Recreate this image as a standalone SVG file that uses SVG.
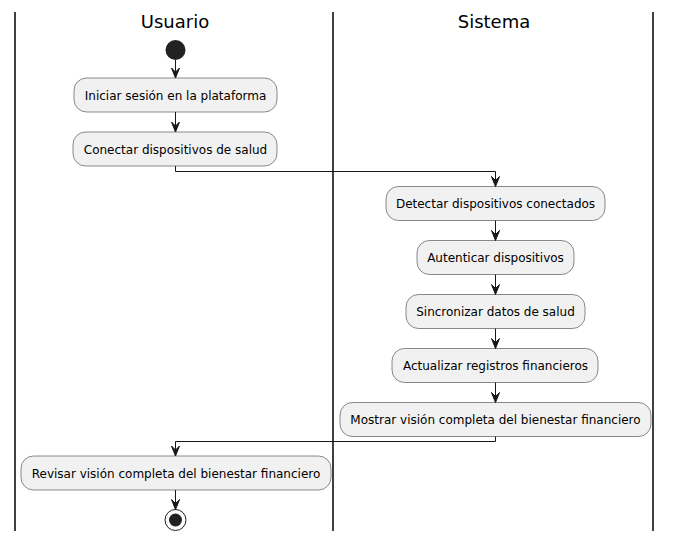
<svg xmlns="http://www.w3.org/2000/svg" width="673" height="543" viewBox="0 0 673 543">
<style>
.lane{stroke:#000;stroke-width:1.5}
.title{font-family:"DejaVu Sans",sans-serif;font-size:18px;fill:#000;text-anchor:middle}
.box{fill:#F1F1F1;stroke:#181818;stroke-width:0.5}
.lbl{font-family:"DejaVu Sans",sans-serif;font-size:12px;fill:#000;text-anchor:middle}
.edge{fill:none;stroke:#181818;stroke-width:1}
.head{fill:#181818;stroke:#181818;stroke-width:1}
</style>
<rect width="673" height="543" fill="#fff"/>
<g id="lanes">
<line class="lane" x1="15" y1="12" x2="15" y2="531"/>
<line class="lane" x1="333" y1="12" x2="333" y2="531"/>
<line class="lane" x1="653" y1="12" x2="653" y2="531"/>
<text class="title" x="175" y="28">Usuario</text>
<text class="title" x="494" y="28">Sistema</text>
</g>
<g id="start"><circle cx="175.5" cy="50" r="10" fill="#222"/></g>
<g id="n1"><rect class="box" x="74" y="78" width="203" height="34" rx="12.5"/><text class="lbl" x="175.5" y="99.5">Iniciar sesión en la plataforma</text></g>
<g id="n2"><rect class="box" x="73" y="132" width="204" height="34" rx="12.5"/><text class="lbl" x="175.5" y="153.5">Conectar dispositivos de salud</text></g>
<g id="n3"><rect class="box" x="386" y="186.5" width="219" height="34" rx="12.5"/><text class="lbl" x="495.5" y="208">Detectar dispositivos conectados</text></g>
<g id="n4"><rect class="box" x="417" y="240.5" width="157" height="34" rx="12.5"/><text class="lbl" x="495.5" y="262">Autenticar dispositivos</text></g>
<g id="n5"><rect class="box" x="406" y="294.5" width="179" height="34" rx="12.5"/><text class="lbl" x="495.5" y="316">Sincronizar datos de salud</text></g>
<g id="n6"><rect class="box" x="392" y="348.5" width="206" height="34" rx="12.5"/><text class="lbl" x="495.5" y="370">Actualizar registros financieros</text></g>
<g id="n7"><rect class="box" x="340" y="402.5" width="311" height="34" rx="12.5"/><text class="lbl" x="495.5" y="424">Mostrar visión completa del bienestar financiero</text></g>
<g id="n8"><rect class="box" x="21" y="456" width="310" height="34" rx="12.5"/><text class="lbl" x="176" y="477.5">Revisar visión completa del bienestar financiero</text></g>
<g id="stop"><circle cx="175.5" cy="520" r="10.5" fill="none" stroke="#222" stroke-width="1"/><circle cx="175.5" cy="520" r="6.5" fill="#222"/></g>
<g id="connectors">
<path class="edge" d="M175.5,60 V78"/>
<polygon class="head" points="171.5,68 175.5,78 179.5,68 175.5,72"/>
<path class="edge" d="M175.5,112 V132"/>
<polygon class="head" points="171.5,122 175.5,132 179.5,122 175.5,126"/>
<path class="edge" d="M175.5,166 V171.5 H495.5 V186.5"/>
<polygon class="head" points="491.5,176.5 495.5,186.5 499.5,176.5 495.5,180.5"/>
<path class="edge" d="M495.5,220.5 V240.5"/>
<polygon class="head" points="491.5,230.5 495.5,240.5 499.5,230.5 495.5,234.5"/>
<path class="edge" d="M495.5,274.5 V294.5"/>
<polygon class="head" points="491.5,284.5 495.5,294.5 499.5,284.5 495.5,288.5"/>
<path class="edge" d="M495.5,328.5 V348.5"/>
<polygon class="head" points="491.5,338.5 495.5,348.5 499.5,338.5 495.5,342.5"/>
<path class="edge" d="M495.5,382.5 V402.5"/>
<polygon class="head" points="491.5,392.5 495.5,402.5 499.5,392.5 495.5,396.5"/>
<path class="edge" d="M495.5,436.5 V441.5 H175.5 V456"/>
<polygon class="head" points="171.5,446 175.5,456 179.5,446 175.5,450"/>
<path class="edge" d="M175.5,490 V509.5"/>
<polygon class="head" points="171.5,499.5 175.5,509.5 179.5,499.5 175.5,503.5"/>
</g>
</svg>
